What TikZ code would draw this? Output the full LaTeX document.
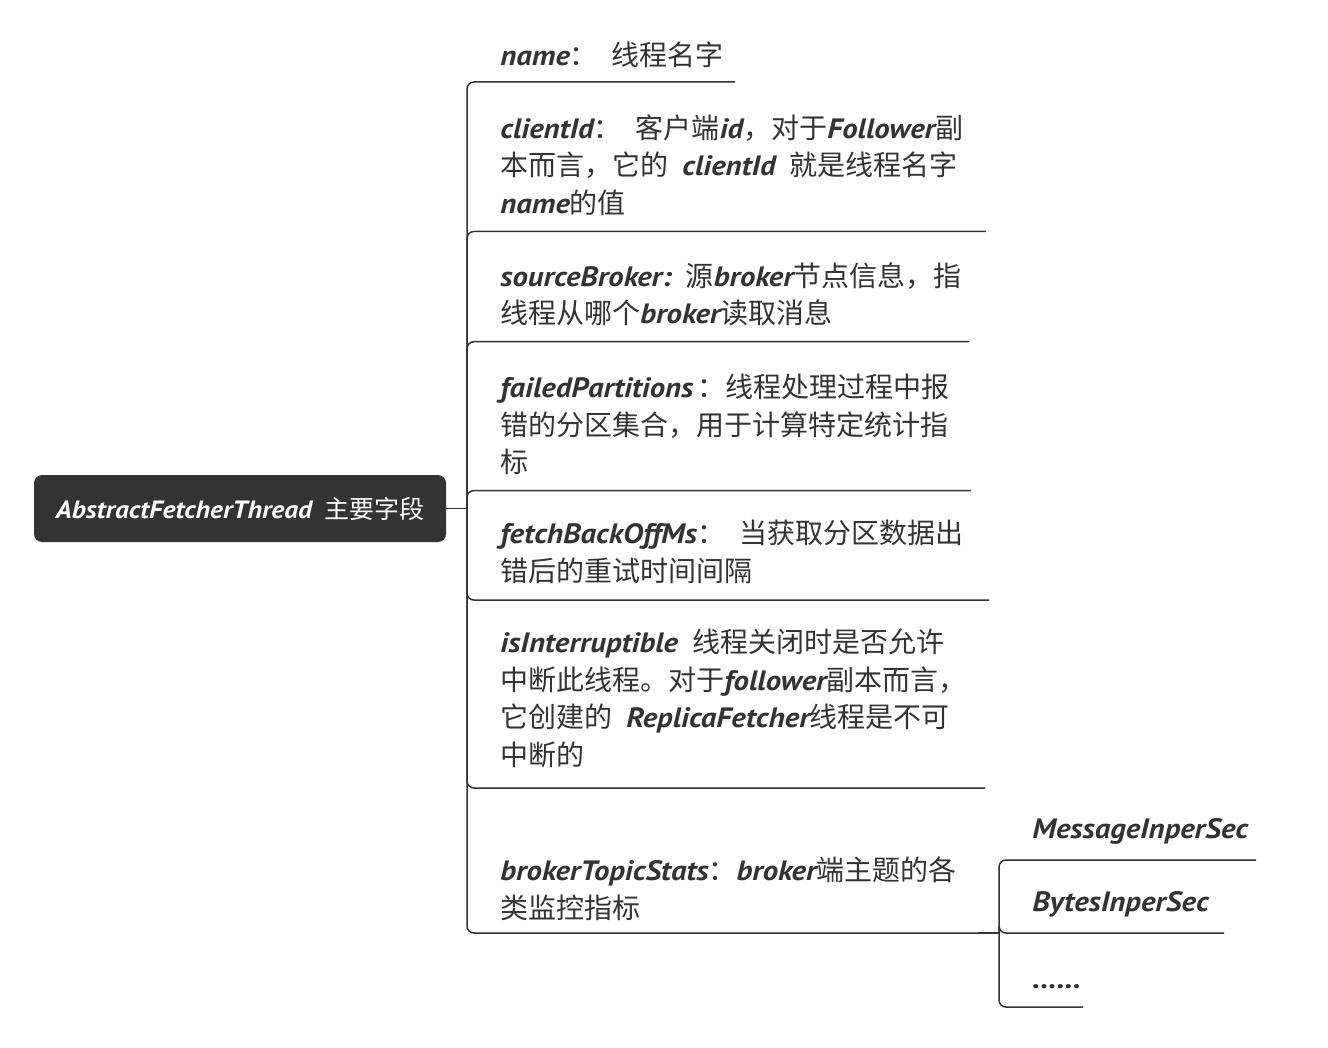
\documentclass[tikz,border=0pt]{standalone}
\usepackage{fontspec}
\setmainfont{Noto Sans CJK SC}
\newfontfamily\handfont{PT Sans}[FakeStretch=1.1]
\definecolor{mapgray}{RGB}{51,51,51}
\newcommand{\kw}[1]{{\handfont\bfseries\itshape #1}}

\begin{document}
\begin{tikzpicture}[x=0.5pt,y=-0.5pt,
    branch/.style={mapgray,line width=0.75pt,rounded corners=3.5pt},
    field/.style={anchor=north west,inner sep=0pt,align=left,text=mapgray,
      font=\fontsize{14}{18.75}\selectfont},
    metric/.style={anchor=base west,inner sep=0pt,text=mapgray,
      font=\fontsize{14}{18.75}\selectfont}]
  \useasboundingbox (0,0) rectangle (1328,1048);

  % root topic
  \node[fill=mapgray,rounded corners=4pt,minimum width=206pt,minimum height=33.5pt,
    text=white,font=\fontsize{12.5}{15}\selectfont] (root) at (240,508.5)
    {\kw{AbstractFetcherThread}\hspace{6pt}主要字段};
  \coordinate (trunk) at (467,508.5);
  \draw[branch] (root.east) -- (trunk);

  % fields
  \node[field] (name) at (500,38.7) {\strut\kw{name}：\enspace 线程名字};
  \node[field] (client) at (500,111.7) {\strut\kw{clientId}：\enspace 客户端\kw{id}，对于\kw{Follower}副\\
    本而言，它的\enspace\kw{clientId}\enspace 就是线程名字\\ \kw{name}的值};
  \node[field] (source) at (500,259.7) {\strut\kw{sourceBroker:}\enspace 源\kw{broker}节点信息，指\\
    线程从哪个\kw{broker}读取消息};
  \node[field] (failed) at (500,371) {\strut\kw{failedPartitions}\hspace{2pt}：线程处理过程中报\\
    错的分区集合，用于计算特定统计指\\ 标};
  \node[field] (backoff) at (500,517) {\strut\kw{fetchBackOffMs}：\enspace 当获取分区数据出\\
    错后的重试时间间隔};
  \node[field] (interrupt) at (500,626) {\strut\kw{isInterruptible}\enspace 线程关闭时是否允许\\
    中断此线程。对于\kw{follower}副本而言，\\ 它创建的\enspace\kw{ReplicaFetcher}线程是不可\\ 中断的};
  \node[field] (stats) at (500,854) {\strut\kw{brokerTopicStats}：\kw{broker}端主题的各\\
    类监控指标};

  \coordinate (name-e) at (735,82);
  \coordinate (client-e) at (986,231.5);
  \coordinate (source-e) at (969,341.7);
  \coordinate (failed-e) at (971,490.5);
  \coordinate (backoff-e) at (989,600);
  \coordinate (interrupt-e) at (985,788);
  \coordinate (stats-e) at (978,933);

  \draw[branch] (trunk) |- (name-e);
  \draw[branch] (trunk) |- (client-e);
  \draw[branch] (trunk) |- (source-e);
  \draw[branch] (trunk) |- (failed-e);
  \draw[branch] (trunk) |- (backoff-e);
  \draw[branch] (trunk) |- (interrupt-e);
  \draw[branch] (trunk) |- (stats-e);

  % metrics of brokerTopicStats
  \node[metric] (msg) at (1032,838.3) {\kw{MessageInperSec}};
  \node[metric] (bytes) at (1032,911.7) {\kw{BytesInperSec}};
  \node[metric] (more) at (1032,988) {\kw{......}};

  \coordinate (stats-sub) at (999,933);
  \coordinate (msg-e) at (1256,860);
  \coordinate (bytes-e) at (1224,933);
  \coordinate (more-e) at (1083,1007);

  \draw[branch] (stats-e) -- (stats-sub);
  \draw[branch] (stats-sub) |- (msg-e);
  \draw[branch] (stats-sub) |- (bytes-e);
  \draw[branch] (stats-sub) |- (more-e);
\end{tikzpicture}
\end{document}
